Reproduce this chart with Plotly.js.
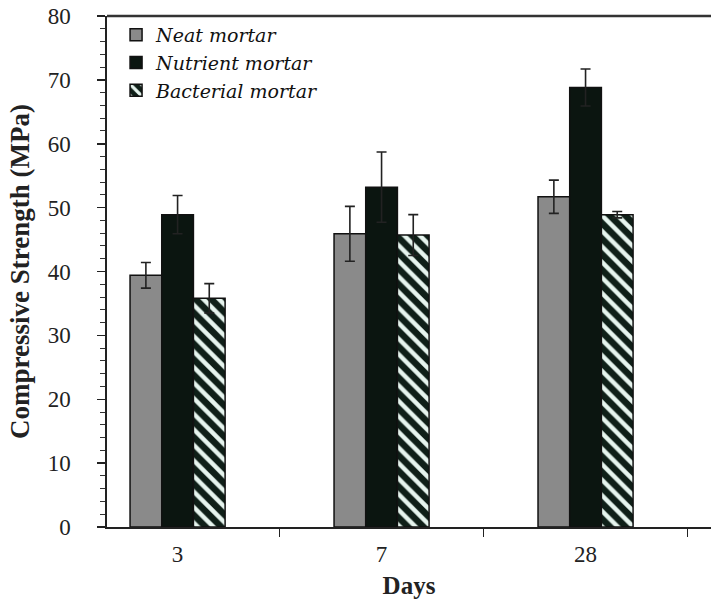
<!DOCTYPE html>
<html>
<head>
<meta charset="utf-8">
<script src="https://cdn.plot.ly/plotly-3.0.1.min.js"></script>
<style>html,body{margin:0;padding:0;background:#fff;}#chart{width:711px;height:601px;}</style>
</head>
<body>
<div id="chart"></div>
<script>
const days = ["3", "7", "28"];
const seriesNames = ["Neat mortar", "Nutrient mortar", "Bacterial mortar"];
const neat = [39.4, 45.9, 51.7];
const neatErr = [2.0, 4.3, 2.6];
const nutrient = [48.9, 53.2, 68.8];
const nutrientErr = [3.0, 5.5, 2.9];
const bacterial = [35.8, 45.7, 48.9];
const bacterialErr = [2.3, 3.2, 0.5];

const serif = "Liberation Serif, Times New Roman, serif";
const errStyle = (arr) => ({type: "data", array: arr, visible: true, color: "#222", thickness: 1.6, width: 5});

const traces = [
  {type: "bar", name: seriesNames[0], x: days, y: neat, error_y: errStyle(neatErr),
   marker: {color: "#8a8a8a", line: {color: "#111", width: 1.5}}},
  {type: "bar", name: seriesNames[1], x: days, y: nutrient, error_y: errStyle(nutrientErr),
   marker: {color: "#0b1510", line: {color: "#111", width: 1.5}}},
  {type: "bar", name: seriesNames[2], x: days, y: bacterial, error_y: errStyle(bacterialErr),
   marker: {color: "#0f1f18", line: {color: "#111", width: 1.5},
            pattern: {shape: "\\", fgcolor: "#e6f4ee", bgcolor: "#0f1f18", size: 11, solidity: 0.4}}}
];

const layout = {
  width: 711, height: 601,
  margin: {l: 107, r: 0, t: 16, b: 74},
  paper_bgcolor: "#fff", plot_bgcolor: "#fff",
  barmode: "group", bargap: 0.534, bargroupgap: 0,
  font: {family: serif, color: "#222"},
  showlegend: true,
  legend: {x: 0.015, y: 1.0, xanchor: "left", yanchor: "top", bgcolor: "rgba(0,0,0,0)",
           font: {family: "DejaVu Serif", size: 19, color: "#111", style: "italic"}, tracegroupgap: 0, itemwidth: 30},
  xaxis: {type: "category", range: [-0.346, 2.615], tickson: "boundaries",
          ticks: "outside", ticklen: 8, tickwidth: 1.5, tickcolor: "#222",
          showline: true, linecolor: "#222", linewidth: 1.6, showgrid: false, zeroline: false,
          ticklabelstandoff: 6,
          tickfont: {family: serif, size: 23, color: "#222"},
          title: {text: "<b>Days</b>", font: {family: serif, size: 25, color: "#222"}, standoff: 10}},
  yaxis: {range: [0, 80], dtick: 10, ticks: "outside", ticklen: 8, tickwidth: 1.5, tickcolor: "#222",
          minor: {dtick: 2, ticks: "outside", ticklen: 5, tickwidth: 1, tickcolor: "#333"},
          showline: true, linecolor: "#222", linewidth: 1.6, showgrid: false, zeroline: false,
          ticklabelstandoff: 22,
          tickfont: {family: serif, size: 23, color: "#222"},
          title: {text: "<b>Compressive Strength (MPa)</b>", font: {family: serif, size: 27, color: "#222"}, standoff: 10}},
  shapes: [{type: "line", xref: "paper", yref: "paper", x0: 0, x1: 1, y0: 1, y1: 1,
            line: {color: "#333", width: 2.5}}]
};

Plotly.newPlot("chart", traces, layout, {staticPlot: true, displayModeBar: false});
</script>
</body>
</html>
